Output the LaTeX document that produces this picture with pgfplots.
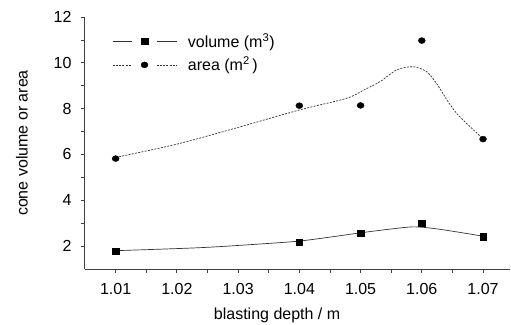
\documentclass[border=0pt]{standalone}
\usepackage{fontspec}
\setmainfont{Liberation Sans}
\usepackage{pgfplots}
\pgfplotsset{compat=1.18}
\usetikzlibrary{calc}
\definecolor{axgray}{HTML}{404040}
\definecolor{curvegray}{HTML}{333333}
\pgfplotsset{
  vollegend/.style={legend image code/.code={
    \draw[curvegray, line width=0.7bp] (0bp,0bp)--(19bp,0bp) (44bp,0bp)--(64bp,0bp);
    \draw[##1] plot coordinates {(32bp,0bp)};}},
  arealegend/.style={legend image code/.code={
    \draw[curvegray, line width=0.7bp, dash pattern=on 2bp off 1.3bp] (0bp,0bp)--(19bp,0bp) (44bp,0bp)--(64bp,0bp);
    \draw[##1] plot coordinates {(32bp,0bp)};}},
}
\begin{document}
\fontsize{16bp}{19bp}\selectfont
\begin{tikzpicture}
\begin{axis}[name=ax, scale only axis, width=425bp, height=252bp,
  xmin=1.005, xmax=1.0744, ymin=1, ymax=12,
  axis lines=left,
  axis line style={-, draw=axgray, line width=1bp},
  xtick={1.01,1.02,1.03,1.04,1.05,1.06,1.07},
  ytick={2,4,6,8,10,12},
  minor x tick num=1, minor y tick num=1,
  tick align=outside, major tick length=4bp, minor tick length=4bp,
  tick style={draw=axgray, line width=0.8bp},
  /pgf/number format/assume math mode=true,
  x tick label style={/pgf/number format/fixed, /pgf/number format/fixed zerofill, /pgf/number format/precision=2, yshift=-5bp},
  y tick label style={xshift=-4bp},
  every axis y label/.style={at={(rel axis cs:0,0.5)}, xshift=-63bp, rotate=90, anchor=center},
  every axis x label/.style={at={(rel axis cs:0.452,0)}, yshift=-46bp, anchor=center},
  xlabel={blasting depth / m},
  ylabel={cone volume or area},
  legend style={at={(rel axis cs:0,1)}, anchor=north west, xshift=27bp, yshift=-14bp,
    draw=none, fill=none, inner sep=0pt, row sep=3bp},
  legend cell align=left,
]
% fitted curves
\addplot[smooth, curvegray, line width=0.7bp, forget plot] coordinates {
 (1.01,1.80) (1.0237,1.93) (1.0335,2.09) (1.04,2.22) (1.0455,2.41) (1.05,2.58)
 (1.0548,2.74) (1.0586,2.84) (1.0619,2.77) (1.0657,2.62) (1.07,2.43)};
\addplot[smooth, curvegray, line width=0.7bp, dash pattern=on 2bp off 1.3bp, forget plot] coordinates {
 (1.01,5.87) (1.02,6.45) (1.03,7.18) (1.04,7.94) (1.0477,8.45) (1.0505,8.81)
 (1.0532,9.18) (1.0559,9.69) (1.0586,9.83) (1.0608,9.61) (1.0624,9.10)
 (1.0641,8.38) (1.0657,7.79) (1.0673,7.36) (1.07,6.68)};
% data points
\addplot[only marks, mark=square*, mark size=3.2bp, black, vollegend]
 coordinates {(1.01,1.78) (1.04,2.17) (1.05,2.55) (1.06,2.99) (1.07,2.41)};
\addlegendentry{\hspace*{9bp}volume (m\textsuperscript{3})}
\addplot[only marks, mark=*, mark size=3.5bp, mark options={yscale=0.85}, black, arealegend]
 coordinates {(1.01,5.82) (1.04,8.13) (1.05,8.14) (1.06,10.97) (1.07,6.67)};
\addlegendentry{\hspace*{9bp}area (m\textsuperscript{2}\,)}
\end{axis}
\pgfresetboundingbox
\path[use as bounding box] ($(ax.south west)+(-85bp,-56bp)$) rectangle ($(ax.north east)+(1bp,17bp)$);
\end{tikzpicture}
\end{document}
